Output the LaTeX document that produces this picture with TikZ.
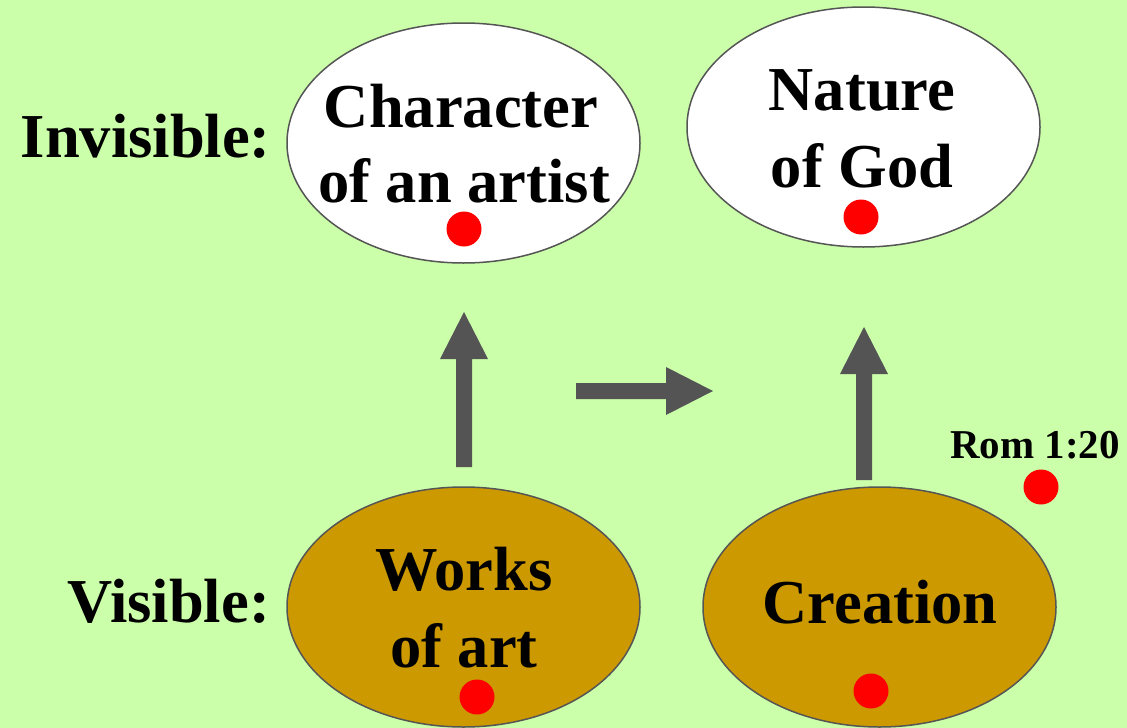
\documentclass[tikz,border=0pt]{standalone}
\usepackage{fontspec}
\setmainfont{Liberation Serif}
\usetikzlibrary{shapes.geometric,calc}
\definecolor{bgc}{HTML}{CCFFAA}
\definecolor{ochre}{HTML}{CC9900}
\definecolor{edgec}{HTML}{555555}
\definecolor{arrc}{HTML}{545454}
\begin{document}
\begin{tikzpicture}[x=1pt,y=-1pt,
  oval/.style={ellipse,draw=edgec,line width=1.5pt,minimum width=353pt,minimum height=240pt,inner sep=0pt},
  big/.style={font=\fontsize{62.5}{75}\selectfont\bfseries,inner sep=0pt,anchor=base},
  small/.style={font=\fontsize{41}{48}\selectfont\bfseries,inner sep=0pt,anchor=base},
  dot/.style={circle,fill=red,minimum size=35pt,inner sep=0pt},
  arrfill/.style={fill=arrc}
]
\fill[bgc] (0,0) rectangle (1127,728);
\useasboundingbox (0,0) rectangle (1127,728);

% ovals
\node[oval,fill=white] (e1) at (463.5,143) {};
\node[oval,fill=white] (e2) at (863.5,127) {};
\node[oval,fill=ochre] (e3) at (463.5,607) {};
\node[oval,fill=ochre] (e4) at (879.5,607) {};

% texts
\node[big] (t1a) at (461,127) {Character};
\node[big] (t1b) at (464,202) {of an artist};
\node[big] (t2a) at (862,110) {Nature};
\node[big] (t2b) at (862,187) {of God};
\node[big] (t3a) at (464,590) {Works};
\node[big] (t3b) at (464,667) {of art};
\node[big] (t4) at (880,623) {Creation};
\node[big,anchor=base east] (inv) at (271,157) {Invisible:};
\node[big,anchor=base east] (vis) at (270,622) {Visible:};
\node[small] (rom) at (1035,458) {Rom 1:20};

% dots
\node[dot] (d1) at (464,229) {};
\node[dot] (d2) at (861,217) {};
\node[dot] (d3) at (477,697) {};
\node[dot] (d4) at (871,691) {};
\node[dot] (d5) at (1041,487) {};

% arrows (block shapes)
\coordinate (a1s) at (464,467);
\coordinate (a1e) at (464,312);
\fill[arrfill] ($(a1s)+(-8,0)$) -- ($(a1e)+(-8,47)$) -- ($(a1e)+(-24,47)$) -- (a1e)
  -- ($(a1e)+(24,47)$) -- ($(a1e)+(8,47)$) -- ($(a1s)+(8,0)$) -- cycle;

\coordinate (a2s) at (576,391);
\coordinate (a2e) at (713,391);
\fill[arrfill] ($(a2s)+(0,-8)$) -- ($(a2e)+(-47,-8)$) -- ($(a2e)+(-47,-24)$) -- (a2e)
  -- ($(a2e)+(-47,24)$) -- ($(a2e)+(-47,8)$) -- ($(a2s)+(0,8)$) -- cycle;

\coordinate (a3s) at (864,480);
\coordinate (a3e) at (864,327);
\fill[arrfill] ($(a3s)+(-8,0)$) -- ($(a3e)+(-8,47)$) -- ($(a3e)+(-24,47)$) -- (a3e)
  -- ($(a3e)+(24,47)$) -- ($(a3e)+(8,47)$) -- ($(a3s)+(8,0)$) -- cycle;
\end{tikzpicture}
\end{document}
